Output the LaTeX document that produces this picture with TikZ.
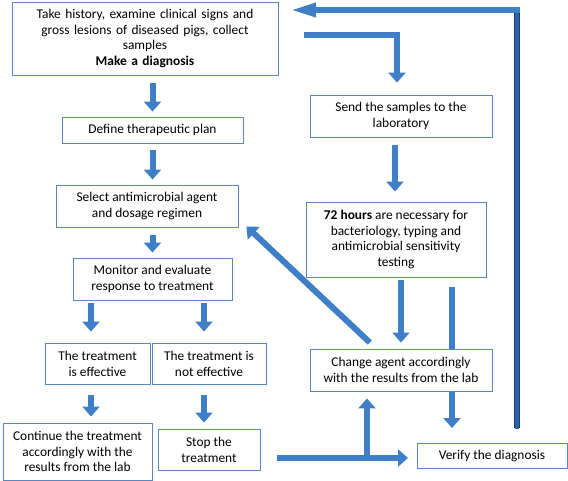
\documentclass[tikz,border=0pt]{standalone}
\usepackage{fontspec}
\setmainfont{Carlito}
\usetikzlibrary{arrows.meta}
\definecolor{arrblue}{HTML}{3F7FC8}
\definecolor{arredge}{HTML}{2C62A6}
\definecolor{boxline}{HTML}{5B87C0}
\definecolor{navy}{HTML}{1F3A66}
\tikzset{
  box/.style={draw=boxline, line width=0.9pt, fill=white, align=center, inner sep=1pt,
    font=\fontsize{13.4}{15.8}\selectfont},
  barrow/.style={draw=arrblue, line width=6pt,
    -{Triangle[width=17pt,length=10pt]}},
}
\begin{document}
\begin{tikzpicture}[x=1pt,y=-1pt]
\useasboundingbox (0,0) rectangle (568,481);

% connectors drawn behind boxes
\coordinate (hv0) at (452,287);
\coordinate (hv1) at (452,428);
\draw[barrow] (hv0) -- (hv1);

% boxes
\node[box, minimum width=266pt, minimum height=73pt, text width=262pt] (top) at (145,38.5)
  {Take history, examine clinical signs and\\gross lesions of diseased pigs, collect\\samples\\\textbf{Make a diagnosis}};
\node[box, minimum width=181pt, minimum height=26pt] (define) at (152.5,130) {Define therapeutic plan};
\node[box, minimum width=182pt, minimum height=42pt] (select) at (147,206) {Select antimicrobial agent\\and dosage regimen};
\node[box, minimum width=159pt, minimum height=42pt] (monitor) at (152.5,279) {Monitor and evaluate\\response to treatment};
\node[box, minimum width=105pt, minimum height=41pt] (eff) at (97.5,363.5) {The treatment\\is effective};
\node[box, minimum width=114pt, minimum height=41pt] (noteff) at (209,363.5) {The treatment is\\not effective};
\node[box, minimum width=149pt, minimum height=57pt] (cont) at (77.5,451.5) {Continue the treatment\\accordingly with the\\results from the lab};
\node[box, minimum width=102pt, minimum height=41pt] (stop) at (209,449.5) {Stop the\\treatment};
\node[box, minimum width=182pt, minimum height=42pt] (send) at (401,116) {Send the samples to the\\laboratory};
\node[box, minimum width=180pt, minimum height=75pt] (hours) at (396,239.5) {\textbf{72 hours} are necessary for\\bacteriology, typing and\\antimicrobial sensitivity\\testing};
\node[box, minimum width=182pt, minimum height=42pt] (change) at (401,370) {Change agent accordingly\\with the results from the lab};
\node[box, minimum width=150pt, minimum height=25pt] (verify) at (492,455.5) {Verify the diagnosis};

% left column arrows
\draw[barrow, shorten <=8pt, shorten >=5pt] (define.north |- top.south) -- (define.north);
\draw[barrow, shorten <=7pt, shorten >=5pt] (define.south) -- (define.south |- select.north);
\draw[barrow, shorten <=8pt, shorten >=5pt] (define.south |- select.south) -- (define.south |- monitor.north);
\draw[barrow, shorten <=3pt, shorten >=11pt] ([xshift=-6.5pt]eff.north |- monitor.south) -- ([xshift=-6.5pt]eff.north);
\draw[barrow, shorten <=3pt, shorten >=11pt] ([xshift=-5pt]noteff.north |- monitor.south) -- ([xshift=-5pt]noteff.north);
\draw[barrow, shorten <=11pt, shorten >=6pt] ([xshift=-6.5pt]eff.south) -- ([xshift=-6.5pt]eff.south |- cont.north);
\draw[barrow, shorten <=11pt, shorten >=6pt] ([xshift=-5pt]noteff.south) -- ([xshift=-5pt]noteff.south |- stop.north);

% stop -> verify and -> change
\coordinate (s0) at (277,458);
\coordinate (jn) at (367,458);
\coordinate (s1) at (408,458);
\draw[barrow] (s0) -- (s1);
\draw[barrow, shorten >=7pt] ([yshift=3pt]jn) -- (jn |- change.south);

% right column
\coordinate (c1) at (304,35);
\draw[barrow, shorten >=12pt] (c1) -| ([xshift=-4pt]send.north);
\draw[barrow, shorten <=8pt, shorten >=10pt] ([xshift=-1pt]hours.north |- send.south) -- ([xshift=-1pt]hours.north);
\draw[barrow, shorten <=3pt, shorten >=6pt] (change.north |- hours.south) -- (change.north);
\draw[barrow, shorten <=3pt] ([xshift=-29pt,yshift=4pt]change.north) -- ([xshift=8pt,yshift=1pt]select.south east);

% feedback to top
\coordinate (fb0) at (517,428);
\coordinate (fb1) at (517,10);
\coordinate (fb2) at (290,10);
\draw[draw=navy, line width=6pt] (fb0) -- ([yshift=-3pt]fb1);
\draw[draw=arredge, line width=3.5pt] ([yshift=-1pt]fb0) -- ([yshift=-3pt]fb1);
\draw[draw=arrblue, line width=6pt, -{Triangle[width=13pt,length=26pt]}] ([xshift=3pt]fb1) -- (fb2);
\end{tikzpicture}
\end{document}
